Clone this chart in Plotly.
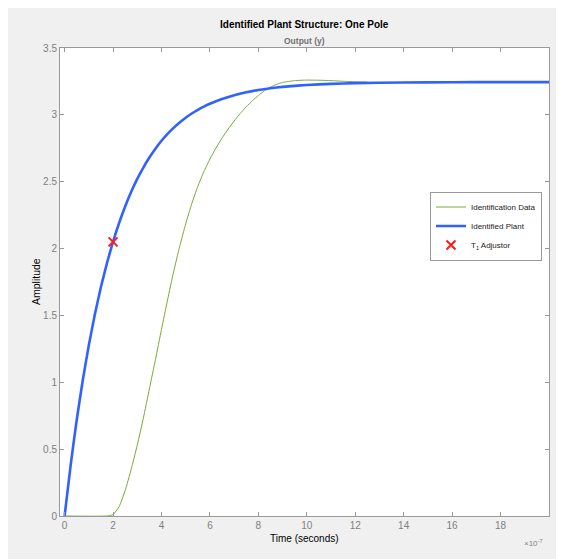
import plotly.graph_objects as go

# time axis values are in units of 1e-7 seconds
t_plant = [0, 0.25, 0.5, 0.75, 1.0, 1.25, 1.5, 1.75, 2.0, 2.25, 2.5, 2.75, 3.0, 3.25, 3.5,
           3.75, 4.0, 4.25, 4.5, 4.75, 5.0, 5.25, 5.5, 5.75, 6.0, 6.5, 7.0, 7.5, 8.0, 8.5,
           9.0, 9.5, 10, 11, 12, 14, 16, 18, 20]
y_plant = [0, 0.381, 0.718, 1.015, 1.277, 1.508, 1.712, 1.892, 2.051, 2.191, 2.315, 2.425,
           2.521, 2.606, 2.681, 2.747, 2.806, 2.858, 2.903, 2.943, 2.979, 3.010, 3.038,
           3.062, 3.083, 3.119, 3.147, 3.169, 3.186, 3.199, 3.209, 3.217, 3.223, 3.232,
           3.237, 3.242, 3.244, 3.245, 3.245]

t_data = [0, 1.75, 2.0, 2.25, 2.5, 2.75, 3.0, 3.25, 3.5, 3.75, 4.0, 4.25, 4.5, 4.75, 5.0,
          5.25, 5.5, 5.75, 6.0, 6.25, 6.5, 6.75, 7.0, 7.25, 7.5, 7.75, 8.0, 8.25, 8.5,
          8.75, 9.0, 9.5, 10, 10.5, 11, 11.5, 12, 12.5]
y_data = [0, 0, 0.01, 0.07, 0.19, 0.35, 0.53, 0.73, 0.95, 1.17, 1.395, 1.615, 1.825, 2.015,
          2.185, 2.335, 2.465, 2.575, 2.67, 2.752, 2.826, 2.893, 2.954, 3.01, 3.06, 3.105,
          3.145, 3.18, 3.208, 3.228, 3.242, 3.256, 3.26, 3.259, 3.256, 3.251, 3.247, 3.245]

t_adj = [2.0]
y_adj = [2.05]

x_ticks = [0, 2, 4, 6, 8, 10, 12, 14, 16, 18]
y_ticks = [0, 0.5, 1, 1.5, 2, 2.5, 3, 3.5]

fig = go.Figure()
fig.add_trace(go.Scatter(x=t_data, y=y_data, mode="lines", name="Identification Data",
                         line=dict(color="#7aa83a", width=1, shape="spline", smoothing=0.5)))
fig.add_trace(go.Scatter(x=t_plant, y=y_plant, mode="lines", name="Identified Plant",
                         line=dict(color="#2f62ff", width=2.6, shape="spline", smoothing=0.5)))
fig.add_trace(go.Scatter(x=t_adj, y=y_adj, mode="markers", name="T<sub>1</sub> Adjustor",
                         marker=dict(symbol="x-thin", size=9,
                                     line=dict(color="#ff1a1a", width=2), color="#ff1a1a")))

OFF = 8  # page body margin
W, H = 556, 551
L, R, T, B = 52, 15, 40, 43
pw, ph = W - L - R, H - T - B


def px(xp):
    """reference page x pixel -> paper coordinate"""
    return (xp - OFF - L) / pw


def py(yp):
    """reference page y pixel -> paper coordinate"""
    return (H - B - (yp - OFF)) / ph


axis_common = dict(showline=True, linecolor="#999999", linewidth=1, mirror="allticks",
                   ticks="inside", ticklen=4, tickcolor="#999999", showgrid=False,
                   zeroline=False,
                   tickfont=dict(family="Liberation Sans", size=10, color="#808080"))

fig.update_layout(
    width=W, height=H,
    margin=dict(l=L, r=R, t=T, b=B),
    paper_bgcolor="#f0f0f0",
    plot_bgcolor="white",
    font=dict(family="Liberation Sans", color="black"),
    showlegend=True,
    legend=dict(x=px(430), y=py(226), xanchor="left", yanchor="middle",
                bgcolor="white", bordercolor="#999999", borderwidth=1,
                font=dict(family="Liberation Sans", size=8, color="#222222"),
                itemwidth=30, tracegroupgap=0),
    xaxis=dict(range=[-0.19, 20.0], tickvals=x_ticks,
               ticktext=[str(v) for v in x_ticks], **axis_common),
    yaxis=dict(range=[0, 3.5], tickvals=y_ticks,
               ticktext=[("%g" % v) for v in y_ticks], **axis_common),
    annotations=[
        dict(text="<b>Identified Plant Structure: One Pole</b>", xref="paper", yref="paper",
             x=px(304), y=py(25), showarrow=False, xanchor="center", yanchor="middle",
             font=dict(size=10, color="black")),
        dict(text="<b>Output (y)</b>", xref="paper", yref="paper",
             x=px(304), y=py(41), showarrow=False, xanchor="center", yanchor="middle",
             font=dict(size=8.5, color="#707070")),
        dict(text="Amplitude", xref="paper", yref="paper", textangle=-90,
             x=px(36), y=py(282), showarrow=False, xanchor="center", yanchor="middle",
             font=dict(size=10.5, color="black")),
        dict(text="Time (seconds)", xref="paper", yref="paper",
             x=px(304), y=py(538), showarrow=False, xanchor="center", yanchor="middle",
             font=dict(size=10, color="black")),
        dict(text="×10<sup>-7</sup>", xref="paper", yref="paper",
             x=px(545), y=py(543), showarrow=False, xanchor="right", yanchor="middle",
             font=dict(size=8, color="#808080")),
    ],
)

fig.write_html("out.html")
